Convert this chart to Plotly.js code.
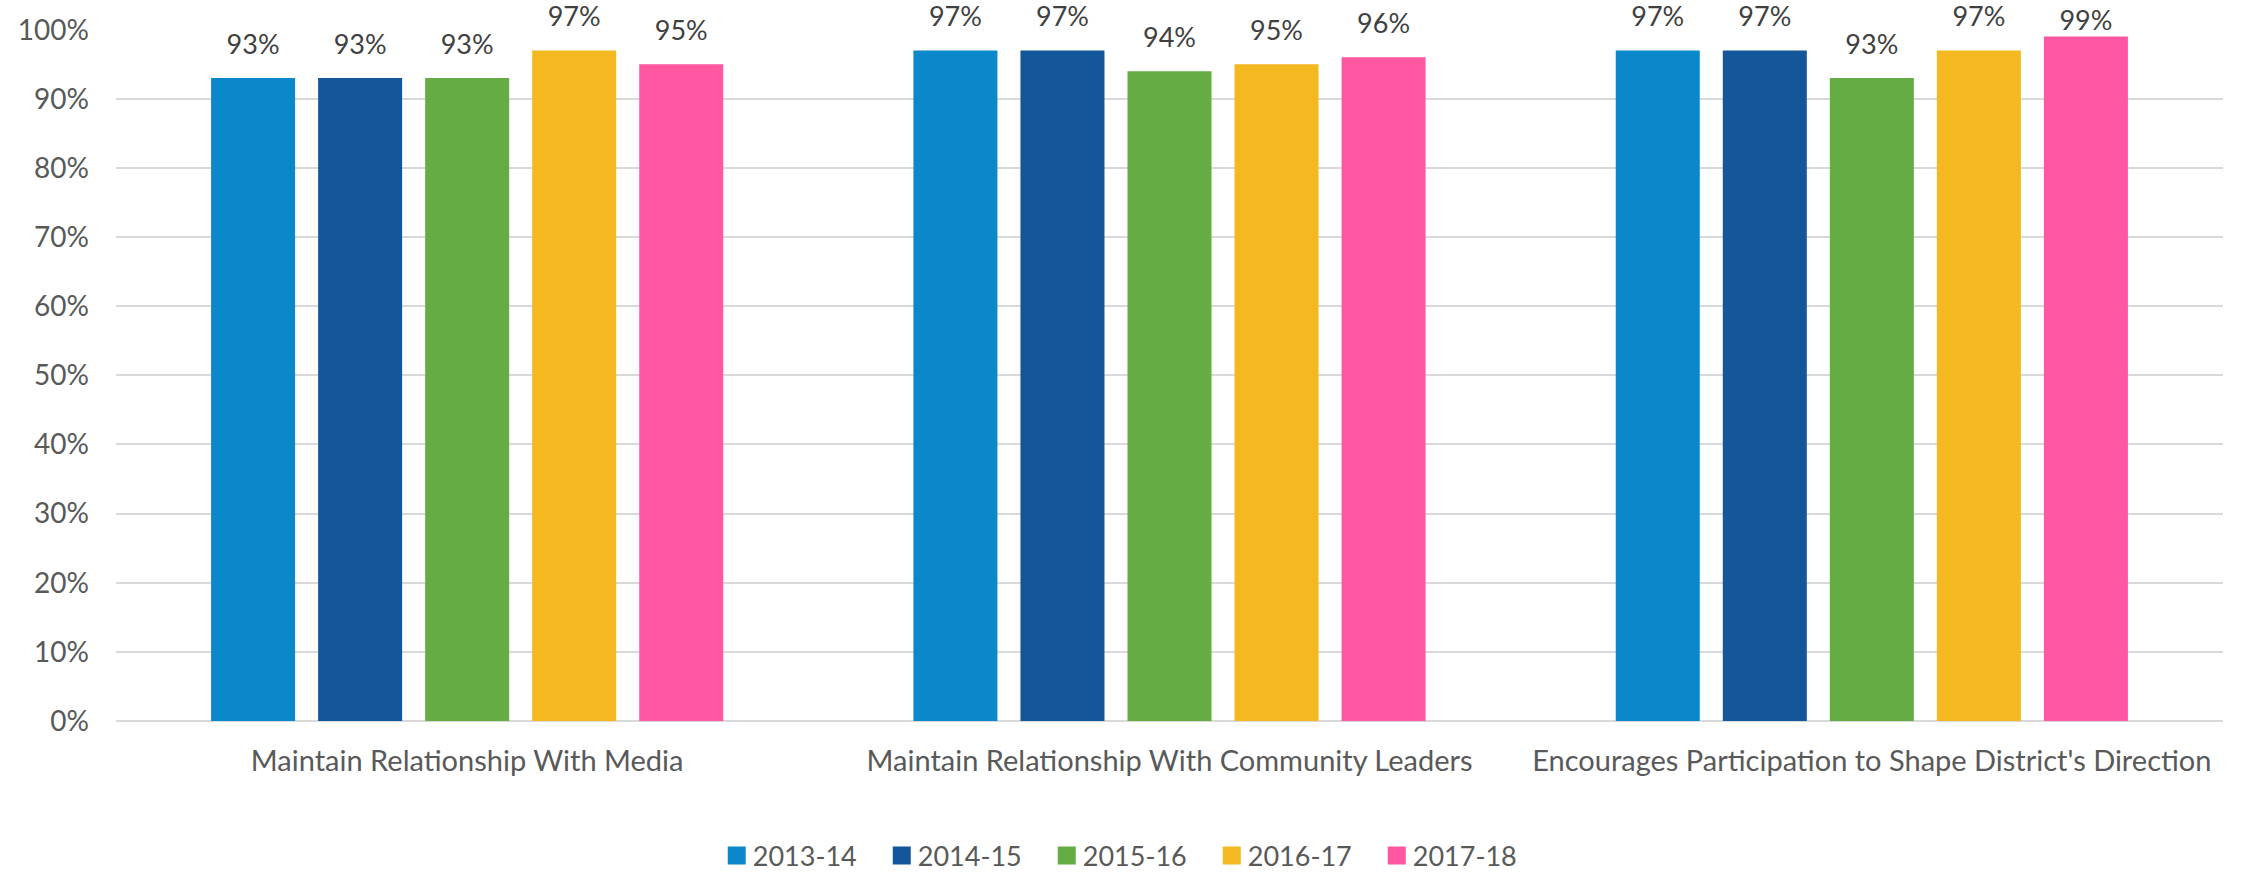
<!DOCTYPE html>
<html>
<head>
<meta charset="utf-8">
<script src="https://cdn.plot.ly/plotly-3.0.1.min.js"></script>
<style>
  html, body { margin: 0; padding: 0; background: #fff; }
  #chart { width: 2241px; height: 873px; }
</style>
</head>
<body>
<div id="chart"></div>
<script>
// categories and series
const categories = [
    'Maintain Relationship With Media',
    'Maintain Relationship With Community Leaders',
    "Encourages Participation to Shape District's Direction"
]
const years = ['2013-14', '2014-15', '2015-16', '2016-17', '2017-18']
const v2013 = [0.93, 0.97, 0.97]
const v2014 = [0.93, 0.97, 0.97]
const v2015 = [0.93, 0.94, 0.93]
const v2016 = [0.97, 0.95, 0.97]
const v2017 = [0.95, 0.96, 0.99]
const colors = ['#0a88c9', '#13579a', '#65ac45', '#f4b920', '#ff57a1']

const series = [v2013, v2014, v2015, v2016, v2017]
const font = 'Lato, "Open Sans", sans-serif'

let bars = series.map((vals, i) => ({
    type: 'bar',
    name: years[i],
    x: categories,
    y: vals,
    marker: { color: colors[i] },
    hoverinfo: 'skip'
}))

// value labels: invisible markers so the text sits a bit above each bar
// (labels that would run off the top are pulled down onto the bar, like Excel does)
let labels = series.map((vals, i) => ({
    type: 'scatter',
    mode: 'markers+text',
    x: categories,
    y: vals,
    texttemplate: '%{y:.0%}',
    textposition: 'top center',
    textfont: { family: font, size: 27, color: '#404040' },
    marker: { size: vals.map(v => v > 0.98 ? 0 : 26), opacity: 0, color: colors[i] },
    showlegend: false,
    cliponaxis: false,
    hoverinfo: 'skip'
}))

const div = document.getElementById('chart')
Plotly.newPlot(div, bars.concat(labels), {
    width: 2241,
    height: 873,
    margin: { l: 116, r: 18, t: 29, b: 152 },
    paper_bgcolor: '#fff',
    plot_bgcolor: '#fff',
    font: { family: font, size: 27, color: '#595959' },
    barmode: 'group',
    bargap: 0.238,
    bargroupgap: 0.215,
    scattermode: 'group',
    scattergap: 0.238,
    showlegend: true,
    legend: {
        orientation: 'h',
        x: 0.479, xanchor: 'center',
        yref: 'container', y: 0.0195, yanchor: 'middle',
        font: { family: font, size: 27, color: '#595959' },
        entrywidth: 120,
        traceorder: 'normal'
    },
    xaxis: {
        type: 'category',
        showgrid: false,
        showline: false,
        ticks: '',
        ticklabelstandoff: 20,
        tickfont: { family: font, size: 29, color: '#595959' }
    },
    yaxis: {
        range: [0, 1.001],
        dtick: 0.1,
        tick0: 0,
        tickformat: '.0%',
        gridcolor: '#d9d9d9',
        gridwidth: 2,
        zeroline: true,
        zerolinecolor: '#d9d9d9',
        zerolinewidth: 2,
        showline: false,
        ticks: '',
        ticklabelstandoff: 26,
        tickfont: { family: font, size: 28, color: '#595959' }
    }
}, { displayModeBar: false, staticPlot: true }).then(() => {
    // Excel-style larger legend squares, a little gap before their text
    div.querySelectorAll('.legendpoints path').forEach(p => {
        p.setAttribute('d', 'M13,9H-5V-9H13Z')
    })
})
</script>
</body>
</html>
